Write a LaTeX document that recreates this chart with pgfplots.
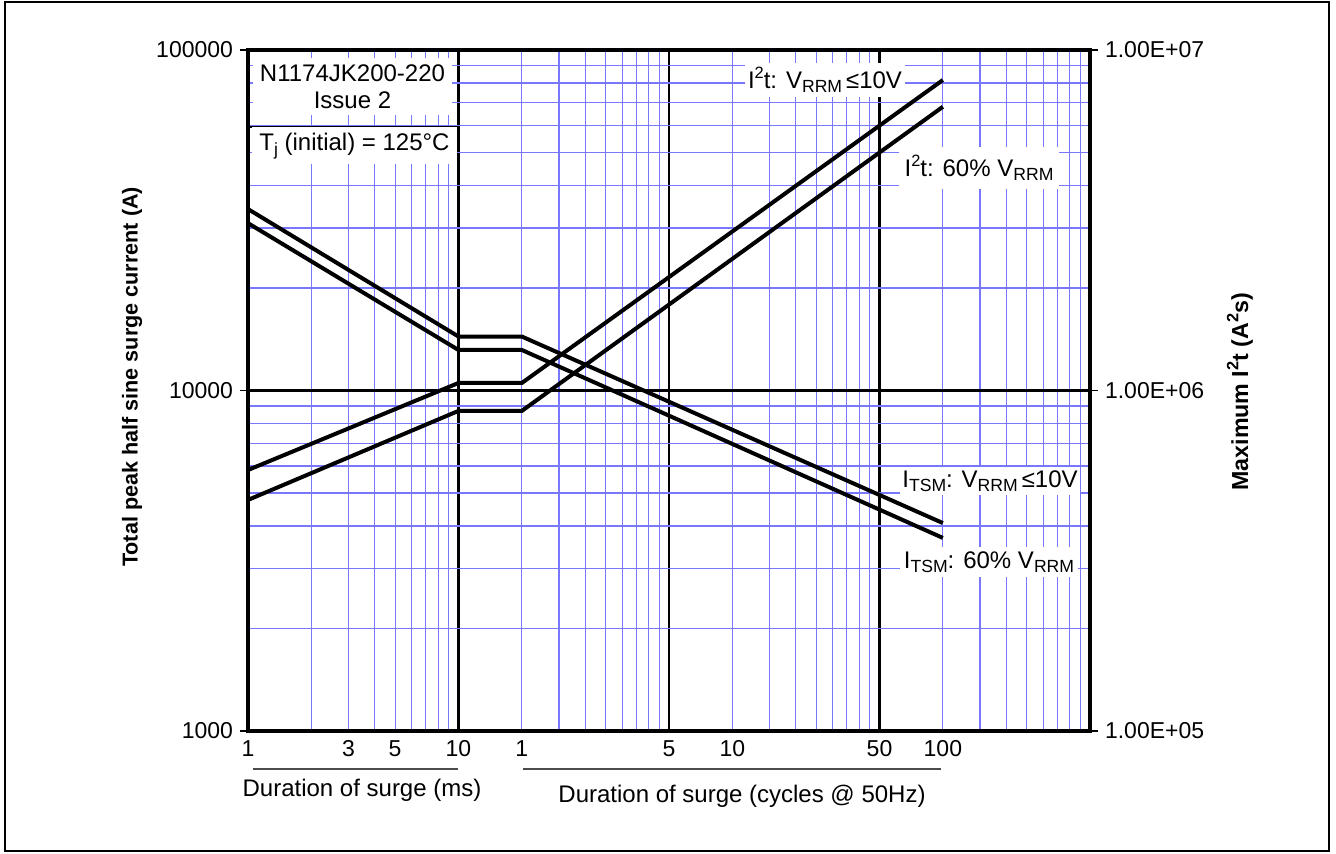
\documentclass[border=0pt]{standalone}
\usepackage{fontspec}
\setmainfont{Liberation Sans}
\usepackage{pgfplots}
\pgfplotsset{compat=1.18}
\definecolor{gridblue}{RGB}{120,120,255}
\newcommand{\subr}[1]{\raisebox{-0.35ex}{\fontsize{8.8}{9}\selectfont #1}}
\newcommand{\supr}[1]{\raisebox{0.8ex}{\fontsize{8.2}{9}\selectfont #1}}
\newcommand{\fs}{\fontsize{11.5}{13.5}\selectfont}
\newcommand{\ft}{\fontsize{12}{13.5}\selectfont}
\begin{document}
\begin{tikzpicture}
\useasboundingbox (-124pt,-61.5pt) rectangle (544pt,365.5pt);
\draw[line width=1pt] (-121.5pt,-60pt) rectangle (540.5pt,364.5pt);
\begin{axis}[
  at={(0pt,0pt)}, anchor=south west,
  scale only axis, width=421pt, height=340.5pt,
  xmode=log, ymode=log,
  xmin=1, xmax=10000, ymin=1000, ymax=100000,
  xtick={1,10,100,1000,10000},
  xticklabels={,,,,},
  extra x ticks={1,3,5,10,20,100,200,1000,2000},
  extra x tick labels={1,3,5,10,1,5,10,50,100},
  extra x tick style={grid=none, major tick length=0pt},
  ytick={1000,10000,100000},
  yticklabels={1000,10000,100000},
  ytick pos=left, xtick pos=bottom,
  tick align=outside,
  major tick length=4pt,
  minor tick length=0pt,
  xtick style={draw=none},
  grid=both,
  major grid style={black, line width=1.2pt},
  minor grid style={gridblue, line width=0.6pt},
  axis line style={line width=1.6pt},
  tick style={black, line width=0.6pt},
  ticklabel style={font=\fs},
  /pgf/number format/assume math mode=true,
  xticklabel style={anchor=base, yshift=-13pt},
  ylabel={Total peak half sine surge current (A)},
  ylabel style={font=\bfseries\fontsize{10.8}{13}\selectfont, at={(axis description cs:-0.1378,0.52)}, anchor=center},
]
\addplot[black, line width=2pt, no marks] coordinates {(1,34100) (10,14400) (20,14400) (2000,4080)};
\addplot[black, line width=2pt, no marks] coordinates {(1,31000) (10,13150) (20,13150) (2000,3690)};
\end{axis}
\begin{axis}[
  at={(0pt,0pt)}, anchor=south west,
  scale only axis, width=421pt, height=340.5pt,
  xmode=log, ymode=log,
  xmin=1, xmax=10000, ymin=100000, ymax=10000000,
  xtick=\empty,
  ytick={100000,1000000,10000000},
  yticklabels={1.00E+05,1.00E+06,1.00E+07},
  ytick pos=right, yticklabel pos=right,
  tick align=outside,
  major tick length=4pt,
  minor tick length=0pt,
  axis line style={line width=1.6pt},
  tick style={black, line width=0.6pt},
  ticklabel style={font=\fs},
  /pgf/number format/assume math mode=true,
  ylabel={Maximum I\supr{2}t (A\supr{2}s)},
  ylabel style={font=\bfseries\fontsize{11.6}{13}\selectfont, at={(axis description cs:1.178,0.498)}, anchor=center},
]
\addplot[black, line width=2pt, no marks] coordinates {(1,584000) (10,1052000) (20,1052000) (2000,8160000)};
\addplot[black, line width=2pt, no marks] coordinates {(1,477000) (10,871000) (20,871000) (2000,6810000)};
\end{axis}
% label boxes
\node[fill=white, inner sep=0pt, minimum width=99.5pt, minimum height=28.5pt, align=center, font=\ft] at (52.25pt,322.25pt) {N1174JK200-220\\Issue 2};
\draw[black, line width=0.6pt] (0pt,302pt) -- (105pt,302pt);
\node[fill=white, inner sep=0pt, minimum width=102.5pt, minimum height=18.5pt, font=\ft] at (53.25pt,292.5pt) {T\subr{j} (initial) = 125°C};
\node[fill=white, inner sep=0pt, minimum width=80pt, minimum height=17pt, font=\ft] at (288.5pt,325.5pt) {I\supr{2}t: V\subr{RRM}\,≤10V};
\node[fill=white, inner sep=0pt, minimum width=80pt, minimum height=21pt, font=\ft] at (365.5pt,281.5pt) {I\supr{2}t: 60\% V\subr{RRM}};
\node[fill=white, inner sep=0pt, minimum width=90pt, minimum height=14pt, font=\ft] at (371pt,125pt) {I\subr{TSM}: V\subr{RRM}\,≤10V};
\node[fill=white, inner sep=0pt, minimum width=89pt, minimum height=15pt, font=\ft] at (370.5pt,84.5pt) {I\subr{TSM}: 60\% V\subr{RRM}};
% x-axis captions
\draw[black!70, line width=0.6pt] (2.5pt,-19pt) -- (105pt,-19pt);
\draw[black!70, line width=0.6pt] (137.5pt,-19pt) -- (346.5pt,-19pt);
\node[font=\ft, anchor=base] at (57pt,-33pt) {Duration of surge (ms)};
\node[font=\ft, anchor=base] at (247pt,-36pt) {Duration of surge (cycles @ 50Hz)};
\end{tikzpicture}
\end{document}
